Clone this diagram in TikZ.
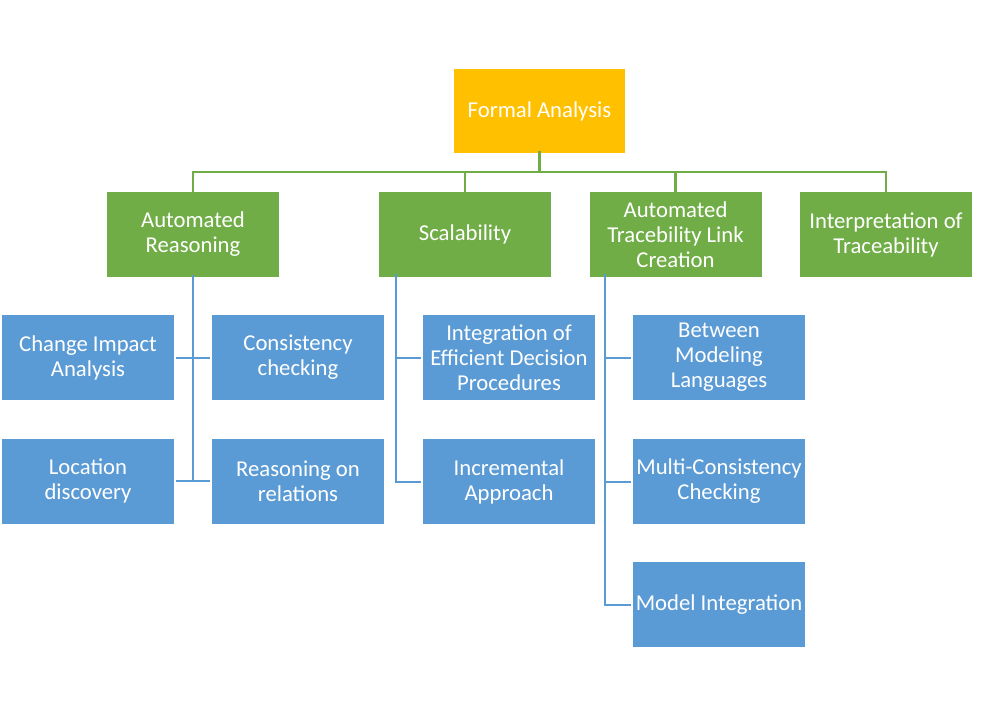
\documentclass[tikz,border=0pt]{standalone}
\usepackage{fontspec}
\setmainfont{Carlito}
\definecolor{faorange}{HTML}{FFC000}
\definecolor{lvgreen}{HTML}{70AD47}
\definecolor{lvblue}{HTML}{5B9BD5}
\begin{document}
\begin{tikzpicture}[x=1pt,y=-1pt,
  box/.style={rectangle, inner sep=0pt, minimum width=172pt, minimum height=85pt,
    text=white, align=center, font=\fontsize{22.7pt}{25pt}\selectfont},
  topbox/.style={box, fill=faorange, minimum width=171pt, minimum height=84pt},
  greenbox/.style={box, fill=lvgreen},
  bluebox/.style={box, fill=lvblue},
  gline/.style={draw=lvgreen, line width=2.5pt},
  bline/.style={draw=lvblue, line width=2pt}]
\useasboundingbox (0,0) rectangle (984,716);
\fill[white] (0,0) rectangle (984,716);
% top
\node[topbox] (fa) at (539.5,111) {Formal Analysis};
% level 1
\node[greenbox] (ar) at (193,234.5) {Automated\\Reasoning};
\node[greenbox] (sc) at (465,234.5) {Scalability};
\node[greenbox] (at) at (675.5,234.5) {Automated\\Tracebility Link\\Creation};
\node[greenbox] (it) at (886,234.5) {Interpretation of\\Traceability};
% level 2
\node[bluebox] (cia) at (88,357.5) {Change Impact\\Analysis};
\node[bluebox] (cc) at (298,357.5) {Consistency\\checking};
\node[bluebox] (ld) at (88,481) {Location\\discovery};
\node[bluebox] (rr) at (298,481) {Reasoning on\\relations};
\node[bluebox] (ie) at (509,357.5) {Integration of\\Efficient Decision\\Procedures};
\node[bluebox] (ia) at (509,481.5) {Incremental\\Approach};
\node[bluebox] (bm) at (719,357.5) {Between\\Modeling\\Languages};
\node[bluebox] (mc) at (719,481.5) {Multi-Consistency\\Checking};
\node[bluebox] (mi) at (719,604.5) {Model Integration};
% green connectors
\coordinate (bus) at (539.5,172);
\draw[gline] ([yshift=2pt]fa.south) -- (bus);
\draw[gline] ([yshift=-1pt]ar.north) |- (bus) -| ([yshift=-1pt]it.north);
\draw[gline] ([yshift=-1pt]sc.north) -- (sc.north |- bus);
\draw[gline] ([yshift=-1pt]at.north) -- (at.north |- bus);
% blue connectors: Automated Reasoning
\draw[bline] ([yshift=2pt]ar.south) -- (ar.south |- ld.east);
\draw[bline] ([xshift=2pt]cia.east) -- ([xshift=-2pt]cc.west);
\draw[bline] ([xshift=2pt]ld.east) -- ([xshift=-2pt]rr.west);
% Scalability
\coordinate (sct) at ([xshift=17pt,yshift=3pt]sc.south west);
\draw[bline] (sct) |- ([xshift=-2pt]ia.west);
\draw[bline] (sct |- ie.west) -- ([xshift=-2pt]ie.west);
% Automated Tracebility Link Creation
\coordinate (att) at ([xshift=16pt,yshift=3pt]at.south west);
\draw[bline] (att) |- ([xshift=-2pt]mi.west);
\draw[bline] (att |- bm.west) -- ([xshift=-2pt]bm.west);
\draw[bline] (att |- mc.west) -- ([xshift=-2pt]mc.west);
\end{tikzpicture}
\end{document}
